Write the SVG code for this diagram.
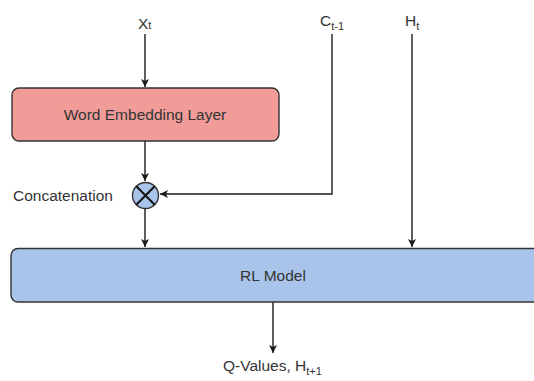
<svg xmlns="http://www.w3.org/2000/svg" width="534" height="381" viewBox="0 0 534 381">
<style>
  text { font-family: "Liberation Sans", Arial, sans-serif; fill: #333333; }
  .lbl { font-size: 15.5px; }
  .sub { font-size: 11px; }
  .box { stroke: #333333; stroke-width: 1.4; }
  .conn { fill: none; stroke: #1a1a1a; stroke-width: 1.4; }
</style>
<defs>
  <marker id="arr" markerUnits="userSpaceOnUse" markerWidth="10" markerHeight="10" refX="8" refY="4" orient="auto">
    <path d="M0,0 L8,4 L0,8 L2,4 z" fill="#1a1a1a"/>
  </marker>
</defs>
<rect width="534" height="381" fill="#ffffff"/>

<g id="connectors">
  <path class="conn" d="M145,34 L145,87" marker-end="url(#arr)"/>
  <path class="conn" d="M145,141 L145,181" marker-end="url(#arr)"/>
  <path class="conn" d="M332,34 L332,194 L160,194" marker-end="url(#arr)"/>
  <path class="conn" d="M145,209 L145,247" marker-end="url(#arr)"/>
  <path class="conn" d="M412,34 L412,247" marker-end="url(#arr)"/>
  <path class="conn" d="M273,302 L273,353" marker-end="url(#arr)"/>
</g>

<g id="xt">
  <text class="lbl" x="138" y="29">X<tspan class="sub" dy="0">t</tspan></text>
</g>
<g id="ct1">
  <text class="lbl" x="320" y="26">C<tspan class="sub" dy="4">t-1</tspan></text>
</g>
<g id="ht">
  <text class="lbl" x="405" y="26">H<tspan class="sub" dy="4">t</tspan></text>
</g>

<g id="word-embedding">
  <rect class="box" x="12" y="88" width="267" height="53" rx="7" fill="#f19c99"/>
  <text class="lbl" x="145" y="120" text-anchor="middle">Word Embedding Layer</text>
</g>

<g id="concatenation">
  <circle class="box" cx="145.5" cy="195.5" r="13" fill="#a9c4eb" stroke="#111111" stroke-width="2"/>
  <path d="M136.3,186.3 L154.7,204.7 M154.7,186.3 L136.3,204.7" stroke="#111111" stroke-width="2" fill="none"/>
  <text class="lbl" x="13" y="201">Concatenation</text>
</g>

<g id="rl-model">
  <rect class="box" x="11" y="248.5" width="540" height="53.5" rx="7" fill="#a9c4eb"/>
  <text class="lbl" x="273" y="281" text-anchor="middle">RL Model</text>
</g>

<g id="q-values">
  <text class="lbl" x="223" y="371">Q-Values, H<tspan class="sub" dy="4">t+1</tspan></text>
</g>
</svg>
